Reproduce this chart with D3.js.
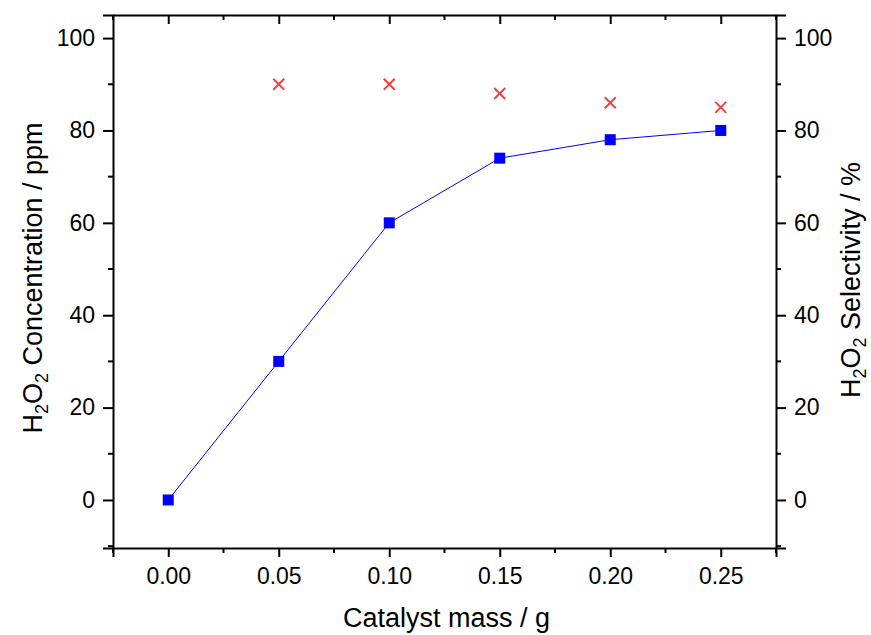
<!DOCTYPE html>
<html><head><meta charset="utf-8">
<script src="https://cdn.jsdelivr.net/npm/d3@7"></script>
<style>body{margin:0;background:#fff}svg{display:block}text{font-family:"Liberation Sans",Arial,sans-serif}</style>
</head><body><svg id="c" width="871" height="635"></svg>
<script>
const mass = [0.00, 0.05, 0.10, 0.15, 0.20, 0.25];
const concentration = [0, 30, 60, 74, 78, 80];
const selMass = [0.05, 0.10, 0.15, 0.20, 0.25];
const selectivity = [90, 90, 88, 86, 85];
const xTicks = [0.00, 0.05, 0.10, 0.15, 0.20, 0.25];
const yTicks = [0, 20, 40, 60, 80, 100];

const svg = d3.select("#c");
const L = 113, R = 776, T = 15, B = 548;
const x = d3.scaleLinear().domain([-0.025, 0.275]).range([L, R]);
const yL = d3.scaleLinear().domain([-10.4, 105]).range([B, T]);
const yR = d3.scaleLinear().domain([-10.4, 105]).range([B, T]);

const xMinor = d3.range(-0.025, 0.2751, 0.025).filter(v => !xTicks.some(t => Math.abs(t - v) < 1e-6));
const yMinor = d3.range(-10, 105, 10).filter(v => v % 20 !== 0);

function styleAxis(g){ g.attr("font-size",23).attr("font-family",null);
  g.select(".domain").attr("stroke","#000").attr("stroke-width",2);
  g.selectAll(".tick line").attr("stroke","#000").attr("stroke-width",2);
  g.selectAll(".tick text").attr("font-size",23).attr("fill","#000"); }

// bottom
const gb = svg.append("g").attr("transform",`translate(0,${B})`)
  .call(d3.axisBottom(x).tickValues(xTicks).tickFormat(d3.format(".2f")).tickSizeOuter(0).tickSize(9).tickPadding(11));
styleAxis(gb);
gb.selectAll(".minor").data(xMinor).join("line").attr("x1",d=>x(d)).attr("x2",d=>x(d)).attr("y1",0).attr("y2",5).attr("stroke","#000").attr("stroke-width",2);
// top
const gt = svg.append("g").attr("transform",`translate(0,${T})`)
  .call(d3.axisTop(x).tickValues(xTicks).tickFormat("").tickSizeOuter(0).tickSizeInner(-9));
styleAxis(gt);
gt.selectAll(".minor").data(xMinor).join("line").attr("x1",d=>x(d)).attr("x2",d=>x(d)).attr("y1",0).attr("y2",5).attr("stroke","#000").attr("stroke-width",2);
// left
const gl = svg.append("g").attr("transform",`translate(${L},0)`)
  .call(d3.axisLeft(yL).tickValues(yTicks).tickSizeOuter(0).tickSize(10).tickPadding(8));
styleAxis(gl);
gl.selectAll(".minor").data(yMinor).join("line").attr("y1",d=>yL(d)).attr("y2",d=>yL(d)).attr("x1",0).attr("x2",-5).attr("stroke","#000").attr("stroke-width",2);
// right
const gr = svg.append("g").attr("transform",`translate(${R},0)`)
  .call(d3.axisRight(yR).tickValues(yTicks).tickSizeOuter(0).tickSize(10).tickPadding(8));
styleAxis(gr);
gr.selectAll(".minor").data(yMinor).join("line").attr("y1",d=>yR(d)).attr("y2",d=>yR(d)).attr("x1",0).attr("x2",5).attr("stroke","#000").attr("stroke-width",2);

// titles
svg.append("text").attr("x",(L+R)/2+2).attr("y",627).attr("text-anchor","middle").attr("font-size",27).text("Catalyst mass / g");
function yTitle(xpos, yc, parts){
  const t = svg.append("text").attr("transform",`translate(${xpos},${yc}) rotate(-90)`).attr("text-anchor","middle").attr("font-size",27);
  parts.forEach(p => { const s = t.append("tspan").text(p[0]);
    if (p[1]) s.attr("font-size",18).attr("dy",6); else if (p[2]) s.attr("dy",-6); });
}
yTitle(42, 278, [["H"],["2",1],["O",0,1],["2",1],[" Concentration / ppm",0,1]]);
yTitle(860, 280, [["H"],["2",1],["O",0,1],["2",1],[" Selectivity / %",0,1]]);

// data
const pts = mass.map((m,i)=>({m, v: concentration[i]}));
svg.append("path").datum(pts).attr("fill","none").attr("stroke","#0000ff").attr("stroke-width",1)
  .attr("d", d3.line().x(d=>x(d.m)).y(d=>yL(d.v)));
svg.selectAll(".sq").data(pts).join("rect").attr("x",d=>x(d.m)-5.5).attr("y",d=>yL(d.v)-5.5).attr("width",11).attr("height",11).attr("fill","#0000ff");
const sp = selMass.map((m,i)=>({m, v: selectivity[i]}));
const cr = svg.selectAll(".cr").data(sp).join("g").attr("transform",d=>`translate(${x(d.m)},${yR(d.v)})`);
cr.append("path").attr("d","M-5.5,-5.5L5.5,5.5M-5.5,5.5L5.5,-5.5").attr("stroke","#f04040").attr("stroke-width",2);
</script></body></html>
